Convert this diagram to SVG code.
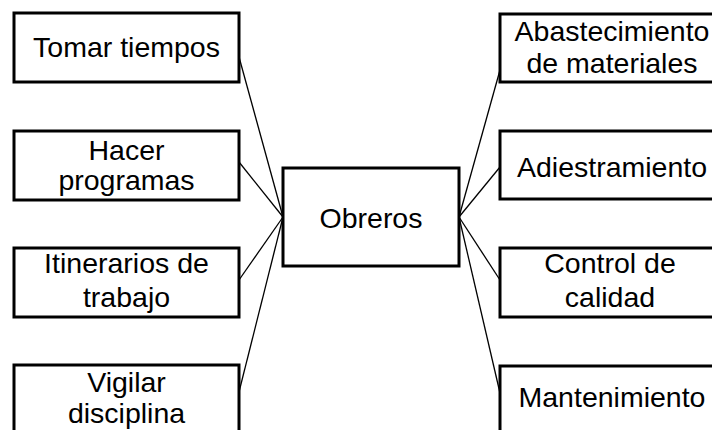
<svg xmlns="http://www.w3.org/2000/svg" width="712" height="430" viewBox="0 0 712 430">
<style>
.box{fill:#fff;stroke:#000;stroke-width:3}
.t{font-family:"Liberation Sans",Arial,sans-serif;font-size:28.5px;fill:#000;text-anchor:middle}
.c{stroke:#000;stroke-width:1.3;fill:none}
</style>
<rect width="712" height="430" fill="#fff"/>
<g id="connectors">
<line class="c" x1="239" y1="57" x2="283" y2="217"/>
<line class="c" x1="239" y1="162" x2="283" y2="217"/>
<line class="c" x1="239" y1="280" x2="283" y2="217"/>
<line class="c" x1="239" y1="392" x2="283" y2="217"/>
<line class="c" x1="500" y1="70" x2="459" y2="217"/>
<line class="c" x1="500" y1="167" x2="459" y2="217"/>
<line class="c" x1="500" y1="280" x2="459" y2="217"/>
<line class="c" x1="500" y1="393" x2="459" y2="217"/>
</g>
<g id="obreros">
<rect class="box" x="283" y="168" width="176" height="98"/>
<text class="t" x="371" y="228">Obreros</text>
</g>
<g id="tomar-tiempos">
<rect class="box" x="14" y="13" width="225" height="69"/>
<text class="t" x="126.5" y="57">Tomar tiempos</text>
</g>
<g id="hacer-programas">
<rect class="box" x="14" y="131" width="225" height="69"/>
<text class="t" x="126.5" y="160">Hacer</text>
<text class="t" x="126.5" y="190">programas</text>
</g>
<g id="itinerarios">
<rect class="box" x="14" y="248" width="225" height="69"/>
<text class="t" x="126.5" y="273">Itinerarios de</text>
<text class="t" x="126.5" y="307">trabajo</text>
</g>
<g id="vigilar">
<rect class="box" x="14" y="365" width="225" height="70"/>
<text class="t" x="126.5" y="392">Vigilar</text>
<text class="t" x="126.5" y="423">disciplina</text>
</g>
<g id="abastecimiento">
<rect class="box" x="500" y="14" width="225" height="68"/>
<text class="t" x="612" y="41">Abastecimiento</text>
<text class="t" x="612" y="73">de materiales</text>
</g>
<g id="adiestramiento">
<rect class="box" x="500" y="131" width="225" height="68"/>
<text class="t" x="612" y="177">Adiestramiento</text>
</g>
<g id="control-calidad">
<rect class="box" x="500" y="248" width="225" height="69"/>
<text class="t" x="610" y="273">Control de</text>
<text class="t" x="610" y="307">calidad</text>
</g>
<g id="mantenimiento">
<rect class="box" x="500" y="366" width="225" height="70"/>
<text class="t" x="612" y="407">Mantenimiento</text>
</g>
</svg>
